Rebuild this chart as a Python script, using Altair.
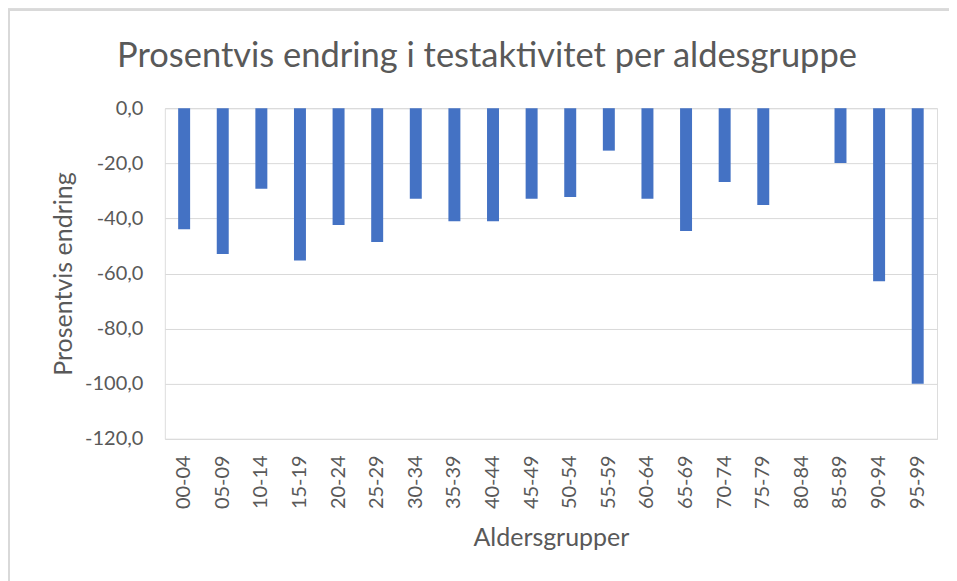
import altair as alt
import pandas as pd

groups = ["00-04", "05-09", "10-14", "15-19", "20-24", "25-29", "30-34", "35-39",
          "40-44", "45-49", "50-54", "55-59", "60-64", "65-69", "70-74", "75-79",
          "80-84", "85-89", "90-94", "95-99"]
values = [-43.9, -52.9, -29.2, -55.3, -42.4, -48.6, -32.9, -41.0,
          -41.0, -32.9, -32.2, -15.4, -32.9, -44.6, -26.8, -35.1,
          0.0, -19.9, -62.8, -100.0]
y_ticks = [0, -20, -40, -60, -80, -100, -120]

df = pd.DataFrame({"Aldersgruppe": groups, "Endring": values})

FONT = "Lato"
GREY = "#595959"
W, H = 773, 331

bars = alt.Chart(df).mark_bar(
    color="#4472C4", width=alt.RelativeBandSize(0.31)
).encode(
    x=alt.X("Aldersgruppe:N", sort=groups,
            scale=alt.Scale(paddingInner=0, paddingOuter=0),
            axis=alt.Axis(title="Aldersgrupper", labelAngle=-90, labelAlign="right",
                          labelBaseline="middle", labelPadding=16, ticks=False,
                          domain=False, grid=False, labelFontSize=20, titleFontSize=25,
                          labelColor=GREY, titleColor=GREY, titlePadding=17,
                          labelFont=FONT, titleFont=FONT, titleFontWeight="normal")),
    y=alt.Y("Endring:Q", scale=alt.Scale(domain=[-120, 0], nice=False, zero=False),
            axis=alt.Axis(title="Prosentvis endring", values=y_ticks, format=".1f",
                          ticks=False, domain=False, grid=True, gridColor="#d9d9d9",
                          gridWidth=1, labelFontSize=20, titleFontSize=25,
                          labelColor=GREY, titleColor=GREY, labelPadding=22,
                          titlePadding=8, labelFont=FONT, titleFont=FONT,
                          titleFontWeight="normal")),
)

# light grey chart-area frame (top and left edges visible in the reference)
frame_top = alt.Chart(df).mark_rule(color="#d9d9d9", strokeWidth=2).encode(
    x=alt.value(-157), x2=alt.value(W + 12), y=alt.value(-98.5)
)
frame_left = alt.Chart(df).mark_rule(color="#d9d9d9", strokeWidth=2).encode(
    x=alt.value(-156), y=alt.value(-98.5), y2=alt.value(H + 142)
)

chart = alt.layer(frame_top, frame_left, bars).properties(
    width=W, height=H,
    autosize=alt.AutoSizeParams(type="none"),
    padding={"left": 157, "top": 100, "right": 12, "bottom": 142},
    title=alt.TitleParams("Prosentvis endring i testaktivitet per aldesgruppe",
                          fontSize=34.5, font=FONT, fontWeight="normal", color=GREY,
                          anchor="middle", dx=-64, offset=-100, baseline="bottom"),
).configure_view(stroke=None).configure(
    locale={"number": {"decimal": ",", "thousands": " ", "grouping": [3],
                       "currency": ["", ""], "minus": "-"}}
)

chart.save("out.html", embed_options={"renderer": "svg", "actions": False})
